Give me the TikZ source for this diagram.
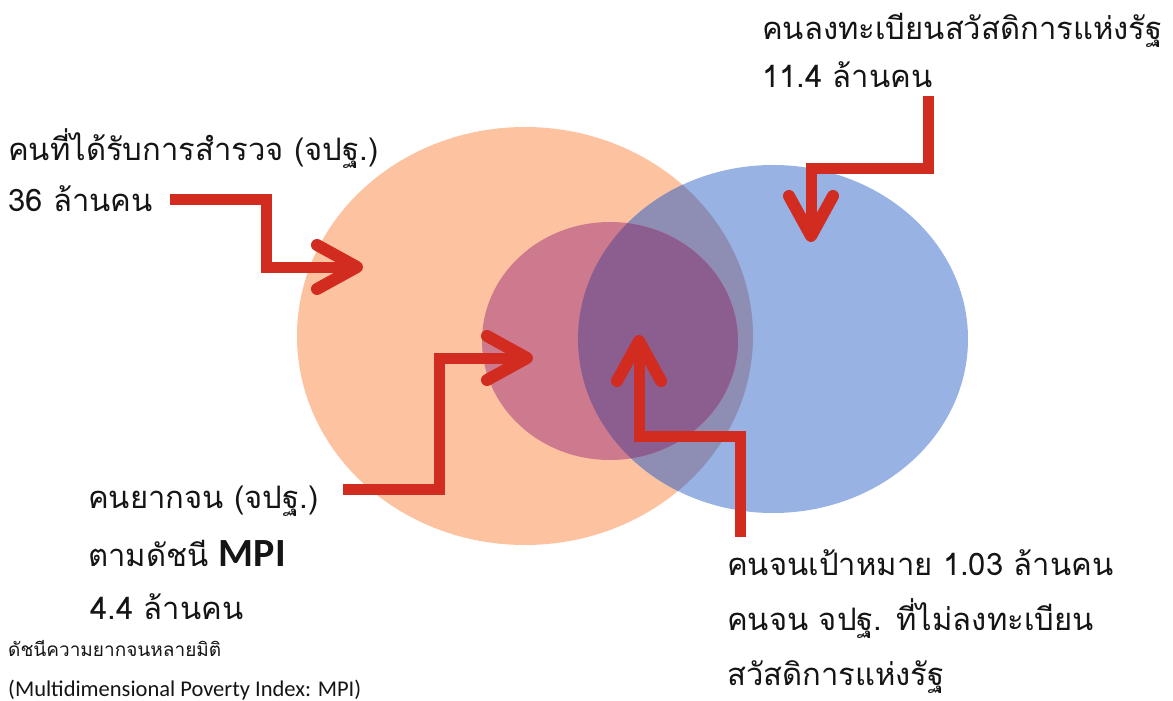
\documentclass[tikz,border=0pt]{standalone}
\usepackage{fontspec}
\setmainfont{Loma}[Script=Thai]
\newfontfamily\latinfont{Carlito}
\definecolor{orangeC}{HTML}{FDC29F}
\definecolor{blueC}{HTML}{98B2E4}
\definecolor{obC}{HTML}{8E8EB4}
\definecolor{pinkC}{HTML}{CD7A8E}
\definecolor{tripleC}{HTML}{8C5E8F}
\definecolor{arrowred}{HTML}{D22B1F}
\definecolor{textC}{HTML}{151515}
\newcommand{\chevronat}[2]{\begin{scope}[shift={#1},rotate=#2]\draw[chevstyle] (-40,-22) -- (0,0) -- (-40,22);\end{scope}}
\begin{document}
\begin{tikzpicture}[x=1pt,y=-1pt,
  shaft/.style={draw=arrowred,line width=11pt,line join=miter},
  chevstyle/.style={draw=arrowred,line width=12pt,line cap=round,line join=round},
  bigtxt/.style={anchor=base west,inner sep=0pt,text=textC,font=\fontsize{31}{36}\selectfont},
  smalltxt/.style={anchor=base west,inner sep=0pt,text=textC,font=\fontsize{19}{23}\selectfont}]
\useasboundingbox (0,0) rectangle (1173,701);
\fill[white] (0,0) rectangle (1173,701);
% circles
\fill[orangeC] (525,336) ellipse [x radius=228pt, y radius=209pt];
\fill[blueC] (773,339) ellipse [x radius=195pt, y radius=174pt];
\begin{scope}
  \clip (525,336) ellipse [x radius=228pt, y radius=209pt];
  \fill[obC] (773,339) ellipse [x radius=195pt, y radius=174pt];
\end{scope}
\fill[pinkC] (610,341) ellipse [x radius=128pt, y radius=119pt];
\begin{scope}
  \clip (610,341) ellipse [x radius=128pt, y radius=119pt];
  \fill[tripleC] (773,339) ellipse [x radius=195pt, y radius=174pt];
\end{scope}
% texts
\node[bigtxt] (t1) at (8,160) {คนที่ได้รับการสำรวจ (จปฐ.)};
\node[bigtxt] (t2) at (8,211) {36 ล้านคน};
\node[bigtxt] (t3) at (762,40) {คนลงทะเบียนสวัสดิการแห่งรัฐ};
\node[bigtxt] (t4) at (762,88) {11.4 ล้านคน};
\node[bigtxt] (t5) at (88,508) {คนยากจน (จปฐ.)};
\node[bigtxt] (t6) at (88,566) {ตามดัชนี {\latinfont\bfseries\fontsize{40}{44}\selectfont MPI}};
\node[bigtxt] (t7) at (90,619) {4.4 ล้านคน};
\node[smalltxt] (t8) at (8,656) {ดัชนีความยากจนหลายมิติ};
\node[smalltxt,font=\latinfont\fontsize{22.5}{26}\selectfont] (t9) at (8,696) {(Multidimensional Poverty Index: MPI)};
\node[bigtxt] (t10) at (727,575) {คนจนเป้าหมาย 1.03 ล้านคน};
\node[bigtxt] (t11) at (727,630) {คนจน จปฐ. ที่ไม่ลงทะเบียน};
\node[bigtxt] (t12) at (727,685) {สวัสดิการแห่งรัฐ};
% arrows
\coordinate (a1s) at (170,199); \coordinate (a1t) at (357,267);
\coordinate (a2s) at (343,489); \coordinate (a2t) at (527,358);
\coordinate (a3s) at (740,537); \coordinate (a3t) at (639,341);
\coordinate (a4s) at (928,96);  \coordinate (a4t) at (811,236);
\draw[shaft] (a1s) -- (266,199) -- (266,267) -- (a1t);
\chevronat{(a1t)}{0}
\draw[shaft] (a2s) -- (439,489) -- (439,358) -- (a2t);
\chevronat{(a2t)}{0}
\draw[shaft] (a3s) -- (740,436) -- (639,436) -- (a3t);
\chevronat{(a3t)}{90}
\draw[shaft] (a4s) -- (928,168) -- (811,168) -- (a4t);
\chevronat{(a4t)}{-90}
\end{tikzpicture}
\end{document}
